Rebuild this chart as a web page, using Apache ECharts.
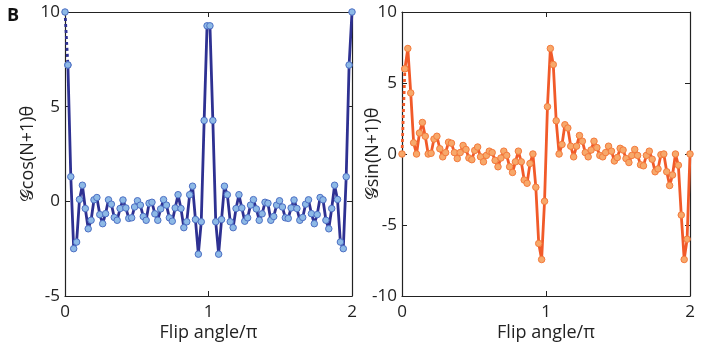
<!DOCTYPE html>
<html><head><meta charset="utf-8">
<script src="https://cdn.jsdelivr.net/npm/echarts@6/dist/echarts.min.js"></script>
<style>html,body{margin:0;padding:0;background:#fff}#c{width:707px;height:347px}</style>
</head><body><div id="c"></div>
<script>
// ---- data ----
const nPoints = 100;            // evenly spaced samples from 0 to 2 (units of π)
const xMin = 0, xMax = 2;
const xTickStep = 1;
const cosTickStep = 5, cosMin = -5, cosMax = 10;
const sinTickStep = 5, sinMin = -10, sinMax = 10;
const panelLabel = 'B';
const xTitle = 'Flip angle/π';
const cosTitle = '𝒢cos(N+1)θ';
const sinTitle = '𝒢sin(N+1)θ';

const cosValues = [
  10, 7.2, 1.3, -2.5, -2.15, 0.1, 0.85, -0.38, -1.45, -1.0,
  0.08, 0.2, -0.7, -1.18, -0.65, 0.08, -0.15, -0.85, -1.0, -0.38,
  0.07, -0.35, -0.9, -0.87, -0.3, 0.03, -0.2, -0.8, -1.0, -0.1,
  -0.05, -0.66, -1.0, -0.4, 0.09, -0.2, -0.87, -1.05, -0.35, 0.35,
  -0.38, -1.39, -1.08, 0.35, 0.8, -0.96, -2.79, -1.08, 4.27, 9.27,
  9.27, 4.27, -1.08, -2.79, -0.96, 0.8, 0.35, -1.08, -1.39, -0.38,
  0.35, -0.35, -1.05, -0.87, -0.2, 0.09, -0.4, -1.0, -0.66, -0.05,
  -0.1, -1.0, -0.8, -0.2, 0.03, -0.3, -0.87, -0.9, -0.35, 0.07,
  -0.38, -1.0, -0.85, -0.15, 0.08, -0.65, -1.18, -0.7, 0.2, 0.08,
  -1.0, -1.45, -0.38, 0.85, 0.1, -2.15, -2.5, 1.3, 7.2, 10
];
const sinValues = [
  0, 6.0, 7.43, 4.3, 0.79, 0.0, 1.48, 2.22, 1.25, 0.0,
  0.05, 1.05, 1.25, 0.37, -0.2, 0.1, 0.83, 0.76, 0.1, -0.32,
  0.1, 0.6, 0.32, -0.28, -0.4, 0.25, 0.49, -0.2, -0.55, -0.1,
  0.2, 0.1, -0.45, -0.9, -0.28, 0.2, -0.1, -0.9, -1.3, -0.55,
  0.2, -0.55, -1.83, -2.06, -0.67, 0.0, -2.34, -6.3, -7.43, -3.33,
  3.33, 7.43, 6.3, 2.34, 0.0, 0.67, 2.06, 1.83, 0.55, -0.2,
  0.55, 1.3, 0.9, 0.1, -0.2, 0.28, 0.9, 0.45, -0.1, -0.2,
  0.1, 0.55, 0.2, -0.49, -0.25, 0.4, 0.28, -0.32, -0.6, -0.1,
  0.32, -0.1, -0.76, -0.83, -0.1, 0.2, -0.37, -1.25, -1.05, -0.05,
  0.0, -1.25, -2.22, -1.48, 0.0, -0.79, -4.3, -7.43, -6.0, 0
];

// ---- build chart ----
const xs = Array.from({length: nPoints}, (_, i) => xMin + (xMax - xMin) * i / (nPoints - 1));
const cosPts = xs.map((x, i) => [x, cosValues[i]]);
const sinPts = xs.map((x, i) => [x, sinValues[i]]);

const FONT = '"Open Sans", "Noto Sans", sans-serif';
const AX = '#222';
const labelStyle = {color: '#222', fontSize: 17, fontFamily: FONT};

function xAx(grid, pos, show) {
  return {
    type: 'value', gridIndex: grid, position: pos, min: xMin, max: xMax, interval: xTickStep,
    axisLine: {show: true, onZero: false, lineStyle: {color: AX, width: 1.2}},
    axisTick: {show: true, inside: true, length: 5, lineStyle: {color: AX}},
    axisLabel: {show: show, margin: 8, ...labelStyle},
    splitLine: {show: false},
    name: show ? xTitle : '', nameLocation: 'middle', nameGap: 28, nameMoveOverlap: false,
    nameTextStyle: {...labelStyle, fontSize: 18}
  };
}
function yAx(grid, pos, show, mn, mx, step, title, gap) {
  return {
    type: 'value', gridIndex: grid, position: pos, min: mn, max: mx, interval: step,
    axisLine: {show: true, onZero: false, lineStyle: {color: AX, width: 1.2}},
    axisTick: {show: true, inside: true, length: 5, lineStyle: {color: AX}},
    axisLabel: {show: show, margin: 5, ...labelStyle},
    splitLine: {show: false},
    name: show ? title : '', nameLocation: 'middle', nameGap: gap || 27, nameRotate: 90,
    nameMoveOverlap: false,
    nameTextStyle: {...labelStyle, fontSize: 18}
  };
}

function lineSeries(xi, yi, pts, line, fill, border) {
  return {
    type: 'line', xAxisIndex: xi, yAxisIndex: yi, data: pts.slice(1),
    symbol: 'circle', symbolSize: 6.5, showSymbol: true, animation: false,
    lineStyle: {color: line, width: 2.8},
    itemStyle: {color: fill, borderColor: border, borderWidth: 1},
    z: 3
  };
}
function dashSeries(xi, yi, pts, line, fill, border) {
  return {
    type: 'line', xAxisIndex: xi, yAxisIndex: yi, data: pts.slice(0, 2),
    symbol: 'circle', symbolSize: 6.5, showSymbol: true, animation: false,
    lineStyle: {color: line, width: 2.8, type: [3, 3]},
    itemStyle: {color: fill, borderColor: border, borderWidth: 1},
    z: 2
  };
}

const chart = echarts.init(document.getElementById('c'), null, {renderer: 'canvas'});
chart.setOption({
  animation: false,
  backgroundColor: '#fff',
  title: {text: panelLabel, left: 2, top: 2,
          textStyle: {fontSize: 18, fontWeight: 'bold', color: '#111', fontFamily: FONT}},
  grid: [
    {left: 65, top: 12, width: 287, height: 287},
    {left: 402, top: 12, width: 288, height: 287}
  ],
  xAxis: [xAx(0, 'bottom', true), xAx(0, 'top', false), xAx(1, 'bottom', true), xAx(1, 'top', false)],
  yAxis: [
    yAx(0, 'left', true, cosMin, cosMax, cosTickStep, cosTitle, 28),
    yAx(0, 'right', false, cosMin, cosMax, cosTickStep, ''),
    yAx(1, 'left', true, sinMin, sinMax, sinTickStep, sinTitle, 20),
    yAx(1, 'right', false, sinMin, sinMax, sinTickStep, '')
  ],
  series: [
    dashSeries(0, 0, cosPts, '#2e3192', '#8db9e6', '#4d6fc4'),
    lineSeries(0, 0, cosPts, '#2e3192', '#8db9e6', '#4d6fc4'),
    dashSeries(2, 2, sinPts, '#f15a29', '#f7a86a', '#f47a3c'),
    lineSeries(2, 2, sinPts, '#f15a29', '#f7a86a', '#f47a3c')
  ]
});
</script></body></html>
